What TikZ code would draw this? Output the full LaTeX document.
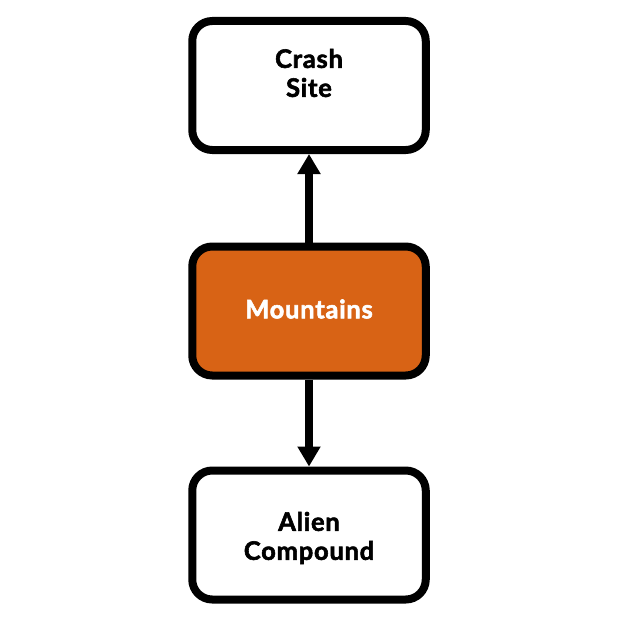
\documentclass[tikz,border=0pt]{standalone}
\usepackage{fontspec}
\setmainfont{Lato}[BoldFeatures={FakeBold=2.2,LetterSpace=3}]
\usetikzlibrary{arrows.meta}
\definecolor{mtorange}{HTML}{D86315}
\tikzset{
  box/.style={draw=black, line width=8pt, rounded corners=20pt, fill=white,
    minimum width=233.5pt, minimum height=129pt, outer sep=4pt},
  hot/.style={fill=mtorange},
  lbl/.style={align=center, inner sep=0pt, font=\fontsize{25.5}{29}\selectfont\bfseries, text=black},
  link/.style={line width=8pt, -{Triangle[width=22pt,length=20pt]}}
}
\begin{document}
\begin{tikzpicture}[x=1pt,y=-1pt]
\useasboundingbox (0,0) rectangle (628,626);
\node[box] (crash) at (309,85.5) {};
\node[box,hot] (mount) at (309,311) {};
\node[box] (alien) at (309,535) {};
\node[lbl] (crashlbl) at (309,73) {Crash\\Site};
\node[lbl,text=white] (mountlbl) at (309,309) {Mountains};
\node[lbl] (alienlbl) at (309,538) {Alien\\Compound};
\draw[link] (mount.north) -- (crash.south);
\draw[link] (mount.south) -- (alien.north);
\end{tikzpicture}
\end{document}
